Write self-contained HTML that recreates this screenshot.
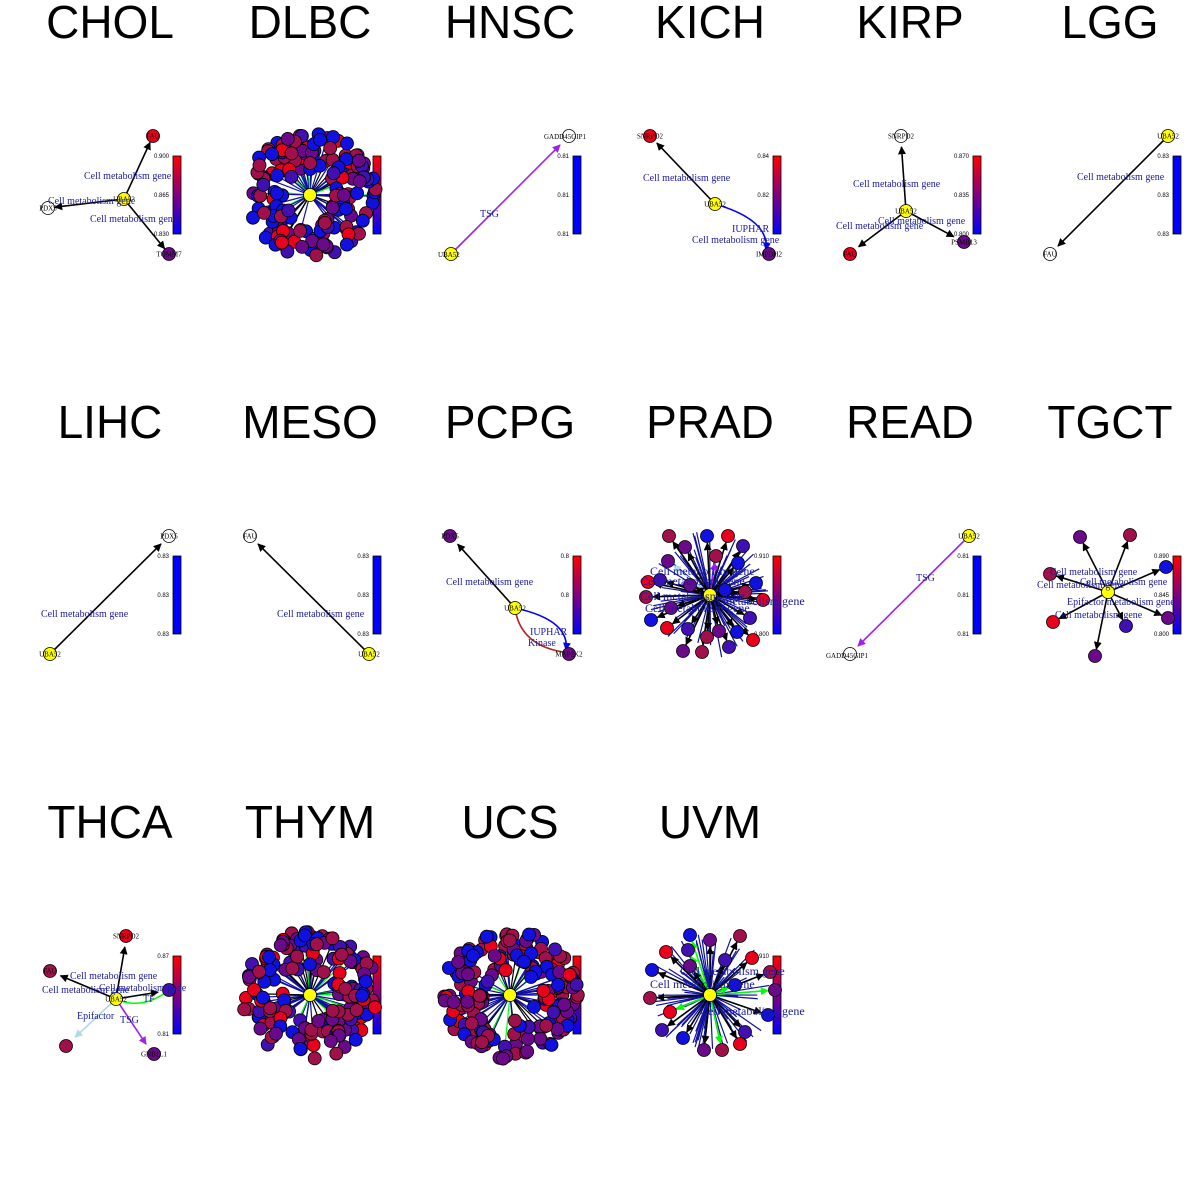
<!DOCTYPE html>
<html><head><meta charset="utf-8"><style>
html,body{margin:0;padding:0;background:#fff;width:1200px;height:1200px;overflow:hidden}
svg{display:block}
</style></head><body>
<svg id="s" width="1200" height="1200" xmlns="http://www.w3.org/2000/svg" font-family="Liberation Serif, serif">
<defs>
<linearGradient id="cb" x1="0" y1="0" x2="0" y2="1"><stop offset="0" stop-color="#ff0000"/><stop offset="0.5" stop-color="#800080"/><stop offset="1" stop-color="#0000ff"/></linearGradient>
<marker id="ak" viewBox="0 0 10 10" refX="9" refY="5" markerWidth="5" markerHeight="5" orient="auto"><path d="M0,0L10,5L0,10z" fill="#000"/></marker>
<marker id="ap" viewBox="0 0 10 10" refX="9" refY="5" markerWidth="5" markerHeight="5" orient="auto"><path d="M0,0L10,5L0,10z" fill="#a020f0"/></marker>
<marker id="ab" viewBox="0 0 10 10" refX="9" refY="5" markerWidth="5" markerHeight="5" orient="auto"><path d="M0,0L10,5L0,10z" fill="#0000ff"/></marker>
<marker id="ag" viewBox="0 0 10 10" refX="9" refY="5" markerWidth="5" markerHeight="5" orient="auto"><path d="M0,0L10,5L0,10z" fill="#00ff00"/></marker>
<marker id="al" viewBox="0 0 10 10" refX="9" refY="5" markerWidth="5" markerHeight="5" orient="auto"><path d="M0,0L10,5L0,10z" fill="#add8e6"/></marker>
</defs>
<g id="g"></g>
</svg>
<script>
var g=document.getElementById('g'),h='';
var titles=['CHOL','DLBC','HNSC','KICH','KIRP','LGG','LIHC','MESO','PCPG','PRAD','READ','TGCT','THCA','THYM','UCS','UVM'];
titles.forEach(function(t,i){var c=i%6,r=Math.floor(i/6);h+='<text x="'+(200*c+110)+'" y="'+(400*r+38)+'" font-family="Liberation Sans, sans-serif" font-size="46" text-anchor="middle">'+t+'</text>';});
function cb(x,y,grad,labs){h+='<rect x="'+x+'" y="'+y+'" width="8" height="78" fill="'+(grad?'url(#cb)':'#0000ff')+'" stroke="#000" stroke-width="0.8"/>';
labs.forEach(function(l,i){h+='<text x="'+(x-4)+'" y="'+(y+2+i*39)+'" font-family="Liberation Sans, sans-serif" font-size="6" text-anchor="end">'+l+'</text>';});}
var cols={r:'#e8001c',p:'#6a0a8a',b:'#1010e0',m:'#a0104a',w:'#ffffff',y:'#ffff00',v:'#4010b0'};
function node(x,y,c,l){h+='<circle cx="'+x+'" cy="'+y+'" r="6.5" fill="'+(cols[c]||c)+'" stroke="#000" stroke-width="0.8"/>';if(l)h+='<text x="'+x+'" y="'+(y+2.5)+'" font-size="7" text-anchor="middle">'+l+'</text>';}
function edge(x1,y1,x2,y2,col,m,w){var dx=x2-x1,dy=y2-y1,d=Math.sqrt(dx*dx+dy*dy);var ex=x2-dx/d*7,ey=y2-dy/d*7;h+='<line x1="'+x1+'" y1="'+y1+'" x2="'+ex+'" y2="'+ey+'" stroke="'+col+'" stroke-width="'+(w||1.6)+'" marker-end="url(#'+m+')"/>';}
function lab(x,y,t,col,s){h+='<text x="'+x+'" y="'+y+'" font-size="'+(s||10)+'" fill="'+(col||'#1a1aa0')+'">'+t+'</text>';}
var seed=7;function rnd(){seed=(seed*16807)%2147483647;return seed/2147483647;}
cb(173,156,1,['0.900','0.865','0.830']);cb(373,156,1,['','','']);cb(573,156,0,['0.81','0.81','0.81']);cb(773,156,1,['0.84','0.82','']);cb(973,156,1,['0.870','0.835','0.800']);cb(1173,156,0,['0.83','0.83','0.83']);
cb(173,556,0,['0.83','0.83','0.83']);cb(373,556,0,['0.83','0.83','0.83']);cb(573,556,1,['0.8','0.8','']);cb(773,556,1,['0.910','','0.800']);cb(973,556,0,['0.81','0.81','0.81']);cb(1173,556,1,['0.890','0.845','0.800']);
cb(173,956,1,['0.87','','0.81']);cb(373,956,1,['','','']);cb(573,956,1,['','','']);cb(773,956,1,['0.910','','']);
edge(124,199,153,136,'#000','ak');edge(124,199,48,208,'#000','ak');edge(124,199,169,254,'#000','ak');
node(153,136,'r','FAU');node(48,208,'w','PDX5');node(169,254,'p','TOMM7');node(124,199,'y','UBA52');
lab(84,179,'Cell metabolism gene');lab(48,204,'Cell metabolism gene');lab(90,222,'Cell metabolism gene');
edge(451,254,565,140,'#a020f0','ap');node(569,136,'w');lab(544,139,'GADD45GIP1','#000',7);node(451,254,'y');lab(438,257,'UBA52','#000',7);lab(480,217,'TSG');
edge(715,204,652,138,'#000','ak');h+='<path d="M715,204 Q770,220 766,250" stroke="#0000ff" stroke-width="1.6" fill="none" marker-end="url(#ab)"/>';
node(650,136,'r','SNRPD2');node(769,254,'p','IMPDH2');node(715,204,'y','UBA52');lab(643,181,'Cell metabolism gene');lab(692,243,'Cell metabolism gene');lab(732,232,'IUPHAR');
edge(906,211,901,140,'#000','ak');edge(906,211,853,251,'#000','ak');edge(906,211,960,240,'#000','ak');
node(901,136,'w','SNRPD2');node(850,254,'r','FAU');node(964,242,'p','PSMB13');node(906,211,'y','UBA52');
lab(853,187,'Cell metabolism gene');lab(878,224,'Cell metabolism gene');lab(836,229,'Cell metabolism gene');
edge(1168,136,1053,251,'#000','ak');node(1050,254,'w','FAU');node(1168,136,'y','UBA52');lab(1077,180,'Cell metabolism gene');
edge(50,654,166,539,'#000','ak');node(169,536,'w','PDX5');node(50,654,'y','UBA52');lab(41,617,'Cell metabolism gene');
edge(369,654,253,539,'#000','ak');node(250,536,'w','FAU');node(369,654,'y','UBA52');lab(277,617,'Cell metabolism gene');
edge(515,608,453,539,'#000','ak');h+='<path d="M515,608 Q570,620 566,650" stroke="#0000ff" stroke-width="1.6" fill="none" marker-end="url(#ab)"/><path d="M515,608 Q520,645 563,652" stroke="#b22222" stroke-width="1.6" fill="none"/>';
node(450,536,'p','PDX5');node(569,654,'p','MAP2K2');node(515,608,'y','UBA52');lab(446,585,'Cell metabolism gene');lab(530,635,'IUPHAR');lab(528,646,'Kinase');
edge(969,536,853,651,'#a020f0','ap');node(850,654,'w');lab(826,658,'GADD45GIP1','#000',7);node(969,536,'y','UBA52');lab(916,581,'TSG');
var tc=[1108,592],tn=[[1080,537,'p'],[1130,535,'m'],[1050,574,'m'],[1166,567,'b'],[1168,618,'p'],[1126,626,'v'],[1053,622,'r'],[1095,656,'p']];
tn.forEach(function(n){edge(tc[0],tc[1],n[0],n[1],'#000','ak');});tn.forEach(function(n){node(n[0],n[1],n[2]);});node(tc[0],tc[1],'y');
lab(1037,588,'Cell metabolism gene');lab(1050,575,'Cell metabolism gene');lab(1080,585,'Cell metabolism gene');lab(1067,605,'Epifactor metabolism gene');lab(1055,618,'Cell metabolism gene');
edge(116,999,126,940,'#000','ak');edge(116,999,54,973,'#000','ak');edge(116,999,165,991,'#000','ak');edge(116,999,70,1042,'#add8e6','al');edge(116,999,150,1050,'#a020f0','ap');h+='<path d="M116,999 Q140,1010 165,993" stroke="#00ff00" stroke-width="1.6" fill="none"/>';
node(126,936,'r','SNRPD2');node(50,971,'m','FAU');node(169,990,'v');node(66,1046,'m');node(154,1054,'p','GNB1L1');node(116,999,'y','UBA52');
lab(70,979,'Cell metabolism gene');lab(42,993,'Cell metabolism gene');lab(99,991,'Cell metabolism gene');lab(77,1019,'Epifactor');lab(120,1023,'TSG');lab(143,1002,'TF');
function dense(cx,cy,R,n,spokes){
 var pts=[];for(var i=0;i<n;i++){var a=rnd()*6.283,rr=R*Math.sqrt(0.15+0.85*rnd());pts.push([cx+Math.cos(a)*rr,cy+Math.sin(a)*rr*0.95]);}
 for(var i=0;i<spokes;i++){var p=pts[i];h+='<line x1="'+cx+'" y1="'+cy+'" x2="'+p[0]+'" y2="'+p[1]+'" stroke="'+(i%9==0?'#00ff00':(i%3==0?'#000':'#1010a0'))+'" stroke-width="1.2"/>';}
 var cl=['r','m','p','b','v','m','b','p'];
 pts.forEach(function(p){node(p[0].toFixed(1),p[1].toFixed(1),cl[Math.floor(rnd()*cl.length)]);});
 node(cx,cy,'y');
}
dense(310,195,66,170,60);
dense(310,995,68,180,60);
dense(510,995,68,180,60);
function spoke(cx,cy,nodes,lbls){
 for(var i=0;i<90;i++){var a=rnd()*6.283,r=20+rnd()*45;h+='<line x1="'+cx+'" y1="'+cy+'" x2="'+(cx+Math.cos(a)*r)+'" y2="'+(cy+Math.sin(a)*r)+'" stroke="#1010a0" stroke-width="1.2"/>';}
 nodes.forEach(function(n){edge(cx,cy,n[0],n[1],n[3]||'#000',n[4]||'ak');});
 nodes.forEach(function(n){node(n[0],n[1],n[2]);});node(cx,cy,'y');
 lbls.forEach(function(l){lab(l[0],l[1],l[2],'#1a1aa0',12);});
}
var pn=[];[[669,536],[685,547],[707,536],[728,536],[743,546],[716,556],[668,561],[738,563],[648,582],[660,580],[646,597],[671,608],[651,620],[667,628],[688,629],[707,637],[719,631],[737,632],[753,640],[729,647],[702,652],[683,651],[756,583],[763,600],[750,618],[745,592],[690,585],[725,590]].forEach(function(p,i){pn.push([p[0],p[1],['m','p','b','r','v'][i%5],i==6?'#add8e6':(i==5?'#a020f0':'#000'),i==6?'al':(i==5?'ap':'ak')]);});
spoke(710,595,pn,[[640,585,'Cell metabolism gene'],[650,575,'Cell metabolism gene'],[640,600,'Cell metabolism gene'],[645,612,'Cell metabolism gene'],[700,605,'Cell metabolism gene']]);
var un=[];[[690,935],[710,940],[740,936],[666,952],[688,950],[652,970],[690,966],[650,998],[670,1012],[662,1030],[683,1038],[704,1050],[722,1050],[740,1044],[745,1032],[768,1015],[775,990],[770,972],[752,958],[725,960],[735,985]].forEach(function(p,i){un.push([p[0],p[1],['b','p','m','r','v'][i%5],i%4==0?'#00ff00':'#000',i%4==0?'ag':'ak']);});
spoke(710,995,un,[[650,988,'Cell metabolism gene'],[680,975,'Cell metabolism gene'],[700,1015,'Cell metabolism gene']]);
g.innerHTML=h;
</script>
</body></html>
